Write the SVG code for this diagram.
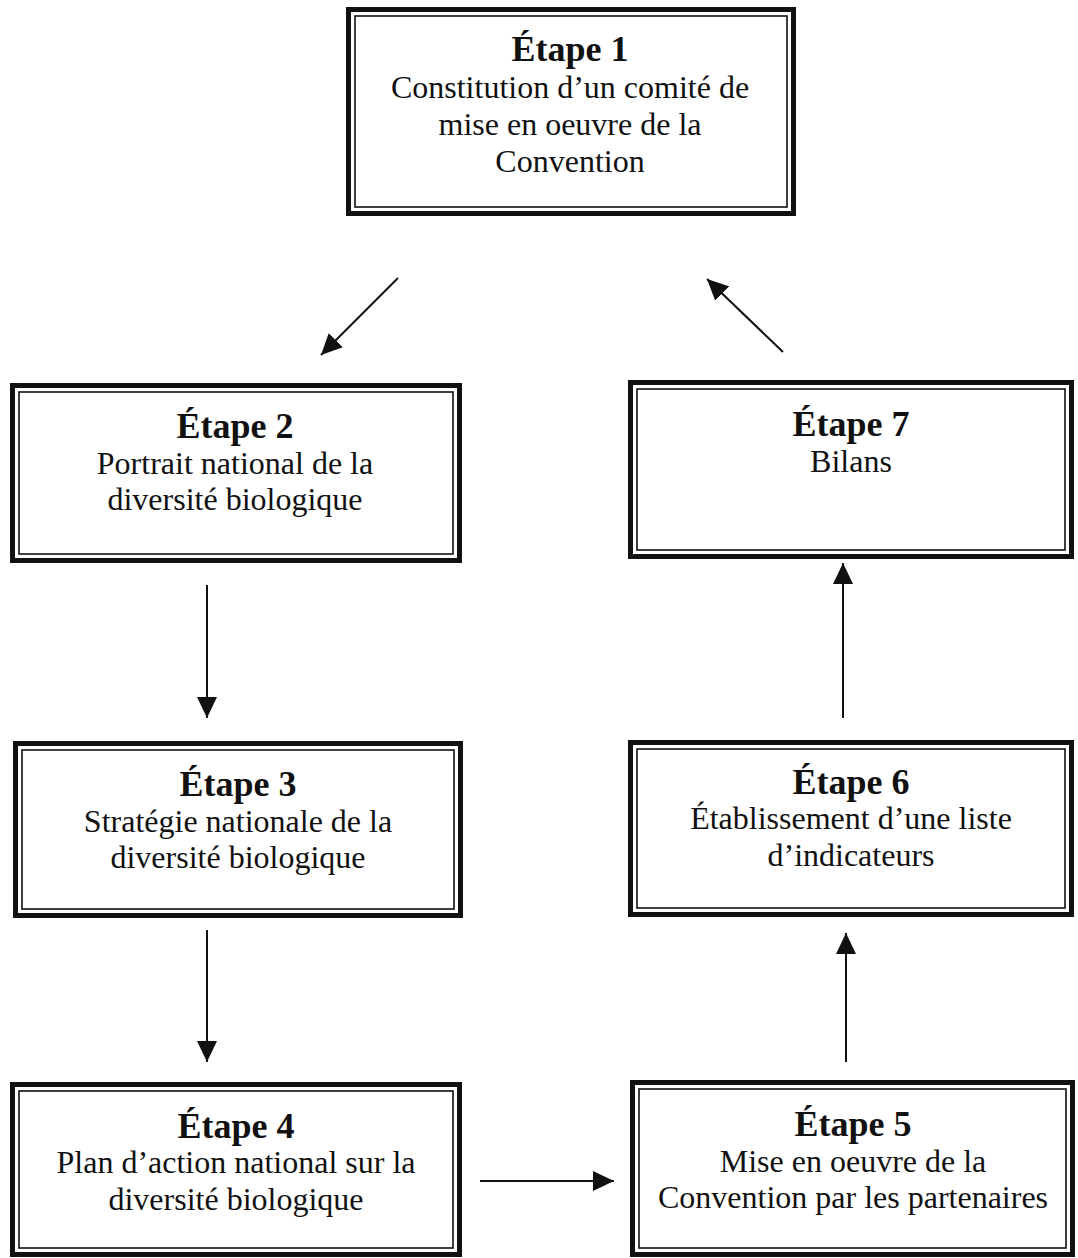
<svg xmlns="http://www.w3.org/2000/svg" width="1078" height="1258" viewBox="0 0 1078 1258">
<style>
.outer{fill:#fff;stroke:#111;stroke-width:5}
.inner{fill:none;stroke:#111;stroke-width:1.6}
.t{font-family:"Liberation Serif","Times New Roman",serif;font-weight:bold;font-size:36px;fill:#111;text-anchor:middle}
.b{font-family:"Liberation Serif","Times New Roman",serif;font-size:32px;fill:#111;text-anchor:middle}
.c{stroke:#111;stroke-width:2;fill:none;marker-end:url(#ah)}
</style>
<defs>
<marker id="ah" viewBox="0 0 21 20" refX="21" refY="10" markerWidth="21" markerHeight="20" markerUnits="userSpaceOnUse" orient="auto">
<path d="M0,0 L21,10 L0,20 Z" fill="#111"/>
</marker>
</defs>
<rect width="1078" height="1258" fill="#fff"/>
<g id="connectors">
<line class="c" x1="398" y1="278" x2="321" y2="355"/>
<line class="c" x1="783" y1="352" x2="707" y2="279"/>
<line class="c" x1="207" y1="585" x2="207" y2="718"/>
<line class="c" x1="207" y1="930" x2="207" y2="1062"/>
<line class="c" x1="480" y1="1181" x2="614" y2="1181"/>
<line class="c" x1="846" y1="1062" x2="846" y2="933"/>
<line class="c" x1="843" y1="718" x2="843" y2="563"/>
</g>
<g id="step1">
<rect class="outer" x="348.5" y="9.5" width="445" height="204"/>
<rect class="inner" x="355" y="16" width="432" height="191"/>
<text class="t" x="570" y="61">Étape 1</text>
<text class="b" x="570" y="98">Constitution d’un comité de</text>
<text class="b" x="570" y="135">mise en oeuvre de la</text>
<text class="b" x="570" y="172">Convention</text>
</g>
<g id="step2">
<rect class="outer" x="12.5" y="385.5" width="447" height="175"/>
<rect class="inner" x="19" y="392" width="434" height="162"/>
<text class="t" x="235" y="438">Étape 2</text>
<text class="b" x="235" y="474">Portrait national de la</text>
<text class="b" x="235" y="510">diversité biologique</text>
</g>
<g id="step7">
<rect class="outer" x="630.5" y="382.5" width="441" height="174"/>
<rect class="inner" x="637" y="389" width="428" height="161"/>
<text class="t" x="851" y="436">Étape 7</text>
<text class="b" x="851" y="472">Bilans</text>
</g>
<g id="step3">
<rect class="outer" x="15.5" y="743.5" width="445" height="172"/>
<rect class="inner" x="22" y="750" width="432" height="159"/>
<text class="t" x="238" y="796">Étape 3</text>
<text class="b" x="238" y="832">Stratégie nationale de la</text>
<text class="b" x="238" y="868">diversité biologique</text>
</g>
<g id="step6">
<rect class="outer" x="630.5" y="742.5" width="441" height="172"/>
<rect class="inner" x="637" y="749" width="428" height="159"/>
<text class="t" x="851" y="794">Étape 6</text>
<text class="b" x="851" y="829">Établissement d’une liste</text>
<text class="b" x="851" y="866">d’indicateurs</text>
</g>
<g id="step4">
<rect class="outer" x="12.5" y="1084.5" width="447" height="170"/>
<rect class="inner" x="19" y="1091" width="434" height="157"/>
<text class="t" x="236" y="1138">Étape 4</text>
<text class="b" x="236" y="1173">Plan d’action national sur la</text>
<text class="b" x="236" y="1210">diversité biologique</text>
</g>
<g id="step5">
<rect class="outer" x="632.5" y="1082.5" width="440" height="172"/>
<rect class="inner" x="639" y="1089" width="427" height="159"/>
<text class="t" x="853" y="1136">Étape 5</text>
<text class="b" x="853" y="1172">Mise en oeuvre de la</text>
<text class="b" x="853" y="1208">Convention par les partenaires</text>
</g>
</svg>
